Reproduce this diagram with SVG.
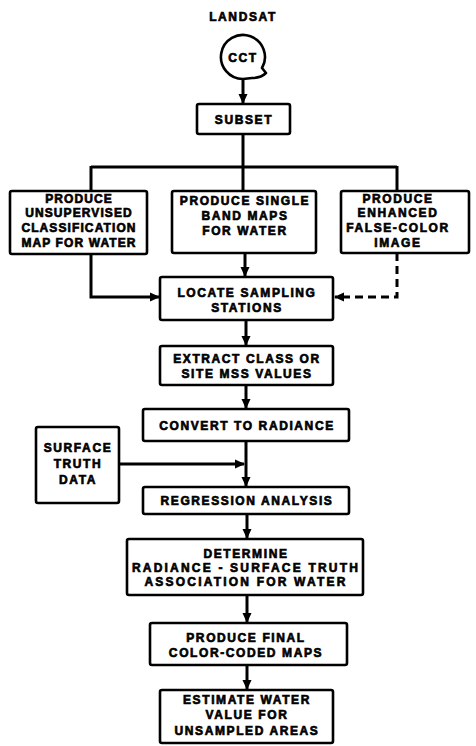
<svg xmlns="http://www.w3.org/2000/svg" width="476" height="746" viewBox="0 0 476 746">
<defs>
<marker id="ah" markerUnits="userSpaceOnUse" markerWidth="10" markerHeight="10" viewBox="0 0 10 10" refX="9" refY="5" orient="auto">
<path d="M0,0.5 L10,5 L0,9.5 Z" fill="#000"/>
</marker>
<style>
.box{fill:#fff;stroke:#000;stroke-width:2.6}
.t{font-family:"Liberation Sans",Arial,sans-serif;font-weight:bold;font-size:12px;letter-spacing:1.6px;text-anchor:middle;fill:#000;stroke:#000;stroke-width:0.65}
.tn{letter-spacing:1.1px}
.tw{letter-spacing:2.2px}
.c{fill:none;stroke:#000;stroke-width:3}
.d{stroke-dasharray:8 5}
</style>
</defs>
<rect width="476" height="746" fill="#fff"/>
<g id="connectors">
<path class="c" d="M243,79 V103" marker-end="url(#ah)"/>
<path class="c" d="M243,134 V167 M91,167 H397 M91,166 V191 M243,166 V191 M397,166 V191"/>
<path class="c" d="M91,254 V297 H159" marker-end="url(#ah)"/>
<path class="c" d="M245,253 V276" marker-end="url(#ah)"/>
<path class="c d" d="M397,253 V297 H335" marker-end="url(#ah)"/>
<path class="c" d="M246,320 V345" marker-end="url(#ah)"/>
<path class="c" d="M246,385 V408" marker-end="url(#ah)"/>
<path class="c" d="M246,441 V486" marker-end="url(#ah)"/>
<path class="c" d="M119,464 H244" marker-end="url(#ah)"/>
<path class="c" d="M247,514 V538" marker-end="url(#ah)"/>
<path class="c" d="M247,595 V622" marker-end="url(#ah)"/>
<path class="c" d="M247,665 V689" marker-end="url(#ah)"/>
</g>
<g id="landsat">
<text class="t" x="243" y="21">LANDSAT</text>
</g>
<g id="cct">
<path d="M243,79 A22,22 0 1 1 262,68 L266,73 Q261,78 252,78 Z" fill="#fff" stroke="#000" stroke-width="2.6" stroke-linejoin="round"/>
<text class="t" x="243" y="61.5">CCT</text>
</g>
<g id="subset">
<rect class="box" x="197" y="104" width="93" height="30" rx="2"/>
<text class="t" x="244" y="123.5">SUBSET</text>
</g>
<g id="unsupervised">
<rect class="box" x="10" y="191" width="137" height="63" rx="2"/>
<text class="t tn" x="79" y="202.5">PRODUCE</text>
<text class="t tn" x="79" y="217">UNSUPERVISED</text>
<text class="t tn" x="79" y="231.5">CLASSIFICATION</text>
<text class="t tn" x="79" y="246.5">MAP FOR WATER</text>
</g>
<g id="singleband">
<rect class="box" x="172" y="191" width="144" height="62" rx="2"/>
<text class="t" x="245" y="205">PRODUCE SINGLE</text>
<text class="t" x="245" y="220">BAND MAPS</text>
<text class="t" x="245" y="235">FOR WATER</text>
</g>
<g id="falsecolor">
<rect class="box" x="341" y="191" width="128" height="62" rx="2"/>
<text class="t" x="398" y="202.5">PRODUCE</text>
<text class="t" x="398" y="217">ENHANCED</text>
<text class="t" x="398" y="231.5">FALSE-COLOR</text>
<text class="t" x="398" y="246.5">IMAGE</text>
</g>
<g id="locate">
<rect class="box" x="160" y="277" width="173" height="43" rx="2"/>
<text class="t" x="247" y="296.5">LOCATE SAMPLING</text>
<text class="t" x="247" y="312">STATIONS</text>
</g>
<g id="extract">
<rect class="box" x="160" y="346" width="173" height="39" rx="2"/>
<text class="t" x="247" y="362.5">EXTRACT CLASS OR</text>
<text class="t" x="247" y="378">SITE MSS VALUES</text>
</g>
<g id="convert">
<rect class="box" x="143" y="409" width="206" height="32" rx="2"/>
<text class="t" x="247" y="430">CONVERT TO RADIANCE</text>
</g>
<g id="surface">
<rect class="box" x="36" y="427" width="83" height="76" rx="2"/>
<text class="t" x="78" y="452">SURFACE</text>
<text class="t" x="78" y="468">TRUTH</text>
<text class="t" x="78" y="484">DATA</text>
</g>
<g id="regression">
<rect class="box" x="143" y="487" width="206" height="27" rx="2"/>
<text class="t" x="247" y="505">REGRESSION ANALYSIS</text>
</g>
<g id="determine">
<rect class="box" x="127" y="539" width="236" height="56" rx="2"/>
<text class="t" x="246" y="558">DETERMINE</text>
<text class="t tw" x="246" y="572">RADIANCE - SURFACE TRUTH</text>
<text class="t tw" x="246" y="586">ASSOCIATION FOR WATER</text>
</g>
<g id="final">
<rect class="box" x="150" y="623" width="197" height="42" rx="2"/>
<text class="t" x="246" y="641.5">PRODUCE FINAL</text>
<text class="t" x="246" y="657">COLOR-CODED MAPS</text>
</g>
<g id="estimate">
<rect class="box" x="160" y="690" width="173" height="53" rx="2"/>
<text class="t" x="247" y="704">ESTIMATE WATER</text>
<text class="t" x="247" y="719">VALUE FOR</text>
<text class="t" x="247" y="735">UNSAMPLED AREAS</text>
</g>
</svg>
